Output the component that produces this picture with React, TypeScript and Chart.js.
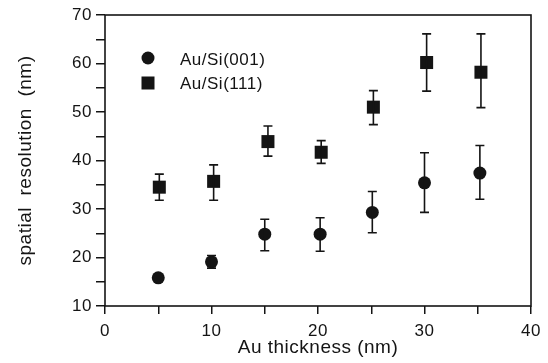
import React, { useEffect, useRef } from "react";
import { Chart, registerables } from "chart.js";

Chart.register(...registerables);

// ---- data ----
const seriesNames = ["Au/Si(001)", "Au/Si(111)"];

const thickness001 = [5, 10, 15, 20.2, 25.1, 30, 35.2];
const resolution001 = [15.8, 19.1, 24.8, 24.8, 29.3, 35.4, 37.4];
const errLow001 = [15.8, 17.8, 21.4, 21.3, 25.1, 29.3, 32.0];
const errHigh001 = [15.8, 20.4, 27.9, 28.2, 33.6, 41.6, 43.1];

const thickness111 = [5.1, 10.2, 15.3, 20.3, 25.2, 30.2, 35.3];
const resolution111 = [34.5, 35.7, 43.9, 41.7, 51.0, 60.2, 58.2];
const errLow111 = [31.8, 31.8, 40.9, 39.4, 47.4, 54.3, 50.9];
const errHigh111 = [37.2, 39.1, 47.1, 44.1, 54.4, 66.1, 66.1];

const xMin = 0;
const xMax = 40;
const yMin = 10;
const yMax = 70;
const majorStep = 10;
const minorStep = 5;

const xTitle = "Au thickness (nm)";
const yTitle = "spatial  resolution  (nm)";

const FONT = '"Liberation Sans", Arial, Helvetica, sans-serif';
const INK = "#141414";

const errorSets = [
  { x: thickness001, lo: errLow001, hi: errHigh001 },
  { x: thickness111, lo: errLow111, hi: errHigh111 },
];

const letterSpacingPlugin = {
  id: "letterSpacing",
  beforeDraw(chart: any) {
    try {
      (chart.ctx as any).letterSpacing = "0.5px";
    } catch (e) {}
  },
};

const errorBarPlugin = {
  id: "errorBars",
  afterDatasetsDraw(chart: any) {
    const ctx = chart.ctx as CanvasRenderingContext2D;
    const xs = chart.scales.x;
    const ys = chart.scales.y;
    ctx.save();
    ctx.strokeStyle = INK;
    ctx.lineWidth = 1.6;
    errorSets.forEach((s) => {
      s.x.forEach((xv, i) => {
        if (s.hi[i] - s.lo[i] <= 0) return;
        const px = xs.getPixelForValue(xv);
        const pl = ys.getPixelForValue(s.lo[i]);
        const ph = ys.getPixelForValue(s.hi[i]);
        ctx.beginPath();
        ctx.moveTo(px, pl);
        ctx.lineTo(px, ph);
        ctx.moveTo(px - 4.5, pl);
        ctx.lineTo(px + 4.5, pl);
        ctx.moveTo(px - 4.5, ph);
        ctx.lineTo(px + 4.5, ph);
        ctx.stroke();
      });
    });
    ctx.restore();
  },
};

const framePlugin = {
  id: "frame",
  afterDraw(chart: any) {
    const ctx = chart.ctx as CanvasRenderingContext2D;
    const a = chart.chartArea;
    ctx.save();
    ctx.strokeStyle = INK;
    ctx.lineWidth = 1.6;
    ctx.strokeRect(a.left, a.top, a.right - a.left, a.bottom - a.top);
    ctx.restore();
  },
};

const legendPlugin = {
  id: "innerLegend",
  afterDraw(chart: any) {
    const ctx = chart.ctx as CanvasRenderingContext2D;
    const a = chart.chartArea;
    const mx = a.left + 43;
    const tx = a.left + 75;
    const y1 = a.top + 43;
    const y2 = a.top + 68;
    ctx.save();
    ctx.fillStyle = INK;
    ctx.beginPath();
    ctx.arc(mx, y1, 6.5, 0, Math.PI * 2);
    ctx.fill();
    ctx.fillRect(mx - 6.5, y2 - 6.5, 13, 13);
    ctx.font = `17px ${FONT}`;
    ctx.textAlign = "left";
    ctx.textBaseline = "middle";
    ctx.fillText(seriesNames[0], tx, y1 + 2);
    ctx.fillText(seriesNames[1], tx, y2 + 1);
    ctx.restore();
  },
};

export default function App() {
  const ref = useRef<HTMLCanvasElement | null>(null);

  useEffect(() => {
    document.body.style.margin = "0";
    const canvas = ref.current;
    if (!canvas) return;
    const tickCb = (v: any) => (Number(v) % majorStep === 0 ? String(v) : "");
    const chart = new Chart(canvas, {
      type: "scatter",
      data: {
        datasets: [
          {
            label: seriesNames[0],
            data: thickness001.map((x, i) => ({ x, y: resolution001[i] })),
            pointStyle: "circle",
            pointRadius: 6.5,
            pointBackgroundColor: INK,
            pointBorderColor: INK,
            pointBorderWidth: 0,
            showLine: false,
          },
          {
            label: seriesNames[1],
            data: thickness111.map((x, i) => ({ x, y: resolution111[i] })),
            pointStyle: "rect",
            pointRadius: 9.2,
            pointBackgroundColor: INK,
            pointBorderColor: INK,
            pointBorderWidth: 0,
            showLine: false,
          },
        ],
      },
      options: {
        responsive: false,
        animation: false,
        devicePixelRatio: 1,
        layout: { padding: { top: 15, right: 17, bottom: 0, left: 0 } },
        plugins: {
          legend: { display: false },
          tooltip: { enabled: false },
        },
        scales: {
          x: {
            type: "linear",
            min: xMin,
            max: xMax,
            border: { display: false },
            grid: {
              drawOnChartArea: false,
              drawTicks: true,
              tickLength: 8,
              color: INK,
              lineWidth: 1.5,
            },
            ticks: {
              stepSize: minorStep,
              callback: tickCb,
              color: INK,
              padding: 7,
              maxRotation: 0,
              autoSkip: false,
              font: { family: FONT, size: 17 },
            },
            title: {
              display: true,
              text: xTitle,
              color: INK,
              font: { family: FONT, size: 19 },
              padding: { top: 0, bottom: 4 },
            },
            afterFit(scale: any) {
              scale.height = 57;
            },
          },
          y: {
            type: "linear",
            min: yMin,
            max: yMax,
            border: { display: false },
            grid: {
              drawOnChartArea: false,
              drawTicks: true,
              tickLength: 9,
              color: INK,
              lineWidth: 1.5,
            },
            ticks: {
              stepSize: minorStep,
              callback: tickCb,
              color: INK,
              padding: 4,
              autoSkip: false,
              font: { family: FONT, size: 17 },
            },
            title: {
              display: true,
              text: yTitle,
              color: INK,
              font: { family: FONT, size: 19 },
              padding: { top: 14, bottom: 0 },
            },
            afterFit(scale: any) {
              scale.width = 105;
            },
          },
        },
      },
      plugins: [letterSpacingPlugin, errorBarPlugin, framePlugin, legendPlugin],
    } as any);
    return () => chart.destroy();
  }, []);

  return (
    <div style={{ position: "absolute", left: 0, top: 0, width: 548, height: 363 }}>
      <canvas ref={ref} width={548} height={363} style={{ display: "block" }} />
    </div>
  );
}
